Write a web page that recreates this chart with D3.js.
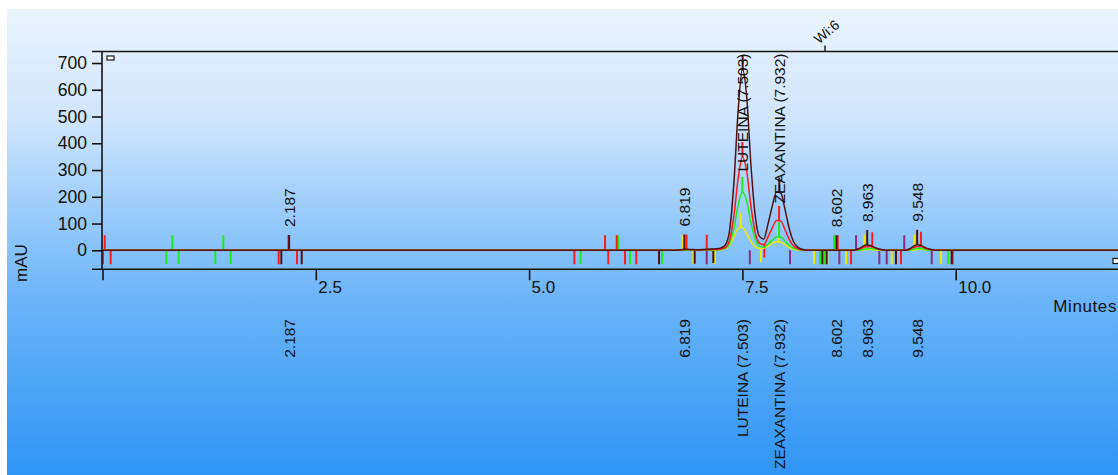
<!DOCTYPE html>
<html><head><meta charset="utf-8">
<script src="https://cdn.jsdelivr.net/npm/d3@7"></script>
<style>
html,body{margin:0;padding:0;background:#fff;}
svg{display:block;}
text{font-family:"Liberation Sans",Arial,sans-serif;fill:#111;}
</style></head><body>
<svg id="chart" width="1118" height="475"></svg>
<script>
// ---- axis ticks ----
const xTicks = [0, 2.5, 5.0, 7.5, 10.0];
const xTickLabels = ["", "2.5", "5.0", "7.5", "10.0"];
const yTicks = [0, 100, 200, 300, 400, 500, 600, 700];

// ---- integrated peaks (retention time, min) ----
const peakTimes = [2.187, 6.819, 7.503, 7.932, 8.602, 8.963, 9.548];
const peakNames = ["", "", "LUTEINA", "ZEAXANTINA", "", "", ""];

// ---- timed event ----
const eventTimes = [8.468];
const eventLabels = ["Wi:6"];

// ---- detector traces: [time (min), mAU] ----
const traceDark = [[0,0],[2.12,0],[2.19,1],[2.26,0],[6.70,0],[6.75,1],[6.80,3],[6.85,4],[6.90,3],[6.95,2],[7.00,2],[7.05,3],[7.10,4],[7.15,5],[7.20,6],[7.25,9],[7.30,20],[7.35,75],[7.40,250],[7.45,520],[7.50,678],[7.55,575],[7.60,320],[7.65,130],[7.70,52],[7.75,42],[7.80,98],[7.85,165],[7.90,218],[7.95,214],[8.00,152],[8.05,80],[8.10,32],[8.15,11],[8.20,4],[8.25,1],[8.30,0],[8.80,0],[8.85,4],[8.90,12],[8.95,20],[9.00,18],[9.05,11],[9.10,5],[9.15,2],[9.20,0],[9.40,0],[9.45,4],[9.50,14],[9.55,21],[9.60,17],[9.65,9],[9.70,4],[9.75,1],[9.80,0],[12,0]];
const traceRed = [[0,0],[6.70,0],[6.75,1],[6.80,2],[6.85,3],[6.90,2],[6.95,1],[7.00,1],[7.05,2],[7.10,2],[7.15,3],[7.20,3],[7.25,5],[7.30,10],[7.35,39],[7.40,129],[7.45,268],[7.50,349],[7.55,296],[7.60,165],[7.65,67],[7.70,27],[7.75,21],[7.80,50],[7.85,84],[7.90,111],[7.95,109],[8.00,77],[8.05,40],[8.10,16],[8.15,6],[8.20,2],[8.25,0],[8.80,0],[8.85,3],[8.90,8],[8.95,13],[9.00,14],[9.05,9],[9.10,4],[9.15,1],[9.20,0],[9.40,0],[9.45,3],[9.50,10],[9.55,14],[9.60,13],[9.65,7],[9.70,3],[9.75,1],[9.80,0],[12,0]];
const traceGreen = [[0,0],[7.10,0],[7.15,1],[7.20,2],[7.25,3],[7.30,7],[7.35,25],[7.40,81],[7.45,168],[7.50,218],[7.55,185],[7.60,103],[7.65,42],[7.70,16],[7.75,11],[7.80,23],[7.85,38],[7.90,50],[7.95,49],[8.00,35],[8.05,18],[8.10,7],[8.15,3],[8.20,0],[8.85,0],[8.90,3],[8.95,6],[9.00,7],[9.05,5],[9.10,2],[9.15,0],[9.45,0],[9.50,4],[9.55,7],[9.60,6],[9.65,3],[9.70,0],[12,0]];
const traceYellow = [[0,0],[7.15,0],[7.20,1],[7.25,2],[7.30,6],[7.35,20],[7.40,50],[7.45,82],[7.50,86],[7.55,62],[7.60,32],[7.65,13],[7.70,7],[7.75,8],[7.80,16],[7.85,26],[7.90,32],[7.95,30],[8.00,21],[8.05,11],[8.10,4],[8.15,1],[8.20,0],[8.90,0],[8.95,3],[9.00,4],[9.05,2],[9.10,0],[9.50,0],[9.55,3],[9.60,4],[9.65,2],[9.70,0],[12,0]];

// ---- integration event marks per channel (min) ----
const apexDark = [2.187, 6.819, 7.503, 7.932, 8.602, 8.963, 9.548];
const apexRed = [0.026, 2.180, 5.890, 6.027, 6.845, 7.082, 7.500, 7.930, 8.617, 9.022, 9.593];
const apexGreen = [0.818, 1.416, 6.045, 7.500, 7.930, 8.575];
const apexYellow = [6.800, 7.480, 7.920, 8.590, 8.929, 9.514];
const apexPurple = [8.832, 9.397];
const boundDark = [2.096, 2.335, 6.523, 6.941, 7.159, 8.437, 8.488, 9.300, 9.953];
const boundRed = [0.006, 0.096, 2.065, 2.280, 5.530, 5.928, 6.124, 6.256, 7.757, 8.774, 9.359, 9.965];
const boundGreen = [0.748, 0.893, 1.322, 1.503, 5.605, 6.183, 6.558, 8.410, 8.460, 9.913];
const boundYellow = [6.925, 7.178, 7.718, 8.339, 8.495, 8.715, 9.250, 9.828];
const boundPurple = [7.082, 7.587, 8.058, 8.636, 9.105, 9.191, 9.719];

// ---- layout ----
const W = 1118, H = 475;
const plot = {left: 102, top: 51.5, bottom: 269.3, right: W};
const x = d3.scaleLinear().domain([0, 12]).range([102.5, 102.5 + 12 * 85.32]);
const y = d3.scaleLinear().domain([-71, 743]).range([plot.bottom, plot.top]);

const channels = [
  {color: "#8a2c7c", trace: [[0,0],[12,0]], apex: apexPurple, bound: boundPurple},
  {color: "#ecec00", trace: traceYellow, apex: apexYellow, bound: boundYellow},
  {color: "#1eea1e", trace: traceGreen, apex: apexGreen, bound: boundGreen},
  {color: "#ff1a1a", trace: traceRed, apex: apexRed, bound: boundRed},
  {color: "#521010", trace: traceDark, apex: apexDark, bound: boundDark}
];

function valueAt(trace, t) {
  const i = d3.bisector(d => d[0]).right(trace, t);
  if (i <= 0) return trace[0][1];
  if (i >= trace.length) return trace[trace.length - 1][1];
  const a = trace[i - 1], b = trace[i];
  return a[1] + (b[1] - a[1]) * (t - a[0]) / (b[0] - a[0]);
}

const svg = d3.select("#chart");
const defs = svg.append("defs");

// background wash
const grad = defs.append("linearGradient").attr("id", "bg")
  .attr("x1", 0).attr("y1", 0).attr("x2", 0).attr("y2", 1);
[[0, "#ebf4fe"], [0.24, "#cfe5fc"], [0.45, "#97cafa"], [0.62, "#6cb4f8"], [1, "#2f95f4"]]
  .forEach(([o, c]) => grad.append("stop").attr("offset", o).attr("stop-color", c));
svg.append("rect").attr("x", 7).attr("y", 9).attr("width", W - 7).attr("height", H - 9)
  .attr("fill", "url(#bg)");

defs.append("clipPath").attr("id", "plotclip").append("rect")
  .attr("x", plot.left).attr("y", plot.top - 30)
  .attr("width", plot.right - plot.left).attr("height", plot.bottom - plot.top + 60);

const g = svg.append("g").attr("clip-path", "url(#plotclip)");
const APEX_LEN = 15, BOUND_LEN = 14;

// event marks under the traces
channels.forEach(ch => {
  g.selectAll(null).data(ch.bound).enter().append("line")
    .attr("x1", d => x(d)).attr("x2", d => x(d))
    .attr("y1", d => y(valueAt(ch.trace, d)))
    .attr("y2", d => y(valueAt(ch.trace, d)) + BOUND_LEN)
    .attr("stroke", ch.color).attr("stroke-width", 2);
  g.selectAll(null).data(ch.apex).enter().append("line")
    .attr("x1", d => x(d)).attr("x2", d => x(d))
    .attr("y1", d => y(valueAt(ch.trace, d)))
    .attr("y2", d => y(valueAt(ch.trace, d)) - APEX_LEN)
    .attr("stroke", ch.color).attr("stroke-width", 2);
});

// traces
const line = d3.line().x(d => x(d[0])).y(d => y(d[1])).curve(d3.curveMonotoneX);
channels.slice(1).forEach(ch => {
  g.append("path").datum(ch.trace).attr("d", line)
    .attr("fill", "none").attr("stroke", ch.color).attr("stroke-width", 1.5)
    .attr("stroke-linejoin", "round");
});

// frame
const frame = svg.append("g").attr("stroke", "#141414").attr("stroke-width", 1.6).attr("fill", "none");
frame.append("line").attr("x1", 92).attr("x2", W).attr("y1", plot.top).attr("y2", plot.top);
frame.append("line").attr("x1", 92).attr("x2", W).attr("y1", plot.bottom).attr("y2", plot.bottom);
frame.append("line").attr("x1", plot.left).attr("x2", plot.left).attr("y1", plot.top).attr("y2", plot.bottom);

// y axis
const yAxis = svg.append("g").attr("transform", `translate(${plot.left},0)`)
  .call(d3.axisLeft(y).tickValues(yTicks).tickSize(10).tickPadding(5).tickFormat(d3.format("d")));
yAxis.select(".domain").remove();
yAxis.selectAll(".tick line").attr("stroke", "#141414").attr("stroke-width", 1.6);
yAxis.selectAll(".tick text").attr("font-size", 17.5).attr("fill", "#111")
  .attr("font-family", "'Liberation Sans', Arial, sans-serif");

// x axis
const xAxis = svg.append("g").attr("transform", `translate(0,${plot.bottom})`)
  .call(d3.axisBottom(x).tickValues(xTicks).tickSize(11).tickFormat((d, i) => xTickLabels[i]));
xAxis.select(".domain").remove();
xAxis.selectAll(".tick line").attr("stroke", "#141414").attr("stroke-width", 1.6);
xAxis.selectAll(".tick text").attr("font-size", 17).attr("fill", "#111")
  .attr("font-family", "'Liberation Sans', Arial, sans-serif")
  .attr("text-anchor", "start").attr("x", 2).attr("y", 24.2).attr("dy", 0);

// axis titles
svg.append("text").attr("transform", "translate(27,263) rotate(-90)")
  .attr("text-anchor", "middle").attr("font-size", 17).text("mAU");
svg.append("text").attr("x", 1117).attr("y", 312)
  .attr("text-anchor", "end").attr("font-size", 17).attr("letter-spacing", 0.6).text("Minutes");

// small corner boxes
svg.append("rect").attr("x", 107).attr("y", 56).attr("width", 7).attr("height", 4)
  .attr("fill", "#fff").attr("stroke", "#141414").attr("stroke-width", 1.2);
svg.append("rect").attr("x", 1113).attr("y", 258.5).attr("width", 9).attr("height", 5)
  .attr("fill", "#fff").attr("stroke", "#141414").attr("stroke-width", 1.2);

// timed event on the top border
eventTimes.forEach((t, i) => {
  svg.append("line").attr("x1", x(t)).attr("x2", x(t)).attr("y1", plot.top - 6).attr("y2", plot.top)
    .attr("stroke", "#141414").attr("stroke-width", 1.4);
  svg.append("text").attr("transform", `translate(${x(t) - 6},${plot.top - 7}) rotate(-40)`)
    .attr("font-size", 14).text(eventLabels[i]);
});

// peak labels
const labelText = (t, i) => peakNames[i] ? `${peakNames[i]} (${t.toFixed(3)})` : t.toFixed(3);
const LABEL_FS = 15.5;
peakTimes.forEach((t, i) => {
  // highest event mark near this peak
  let top = y(0) - APEX_LEN;
  channels.forEach(ch => ch.apex.forEach(a => {
    if (Math.abs(a - t) < 0.06) top = Math.min(top, y(valueAt(ch.trace, a)) - APEX_LEN);
  }));
  const txt = svg.append("text").attr("font-size", LABEL_FS).attr("dy", "0.36em")
    .attr("text-anchor", "start").text(labelText(t, i));
  const len = txt.node().getComputedTextLength();
  let bottom = top - 8;
  if (bottom - len < plot.top + 2) bottom = plot.top + 2 + len;
  txt.attr("transform", `translate(${x(t)},${bottom}) rotate(-90)`);

  svg.append("text").attr("font-size", LABEL_FS).attr("dy", "0.36em")
    .attr("text-anchor", "end")
    .attr("transform", `translate(${x(t)},319) rotate(-90)`)
    .text(labelText(t, i));
});
</script>
</body></html>
